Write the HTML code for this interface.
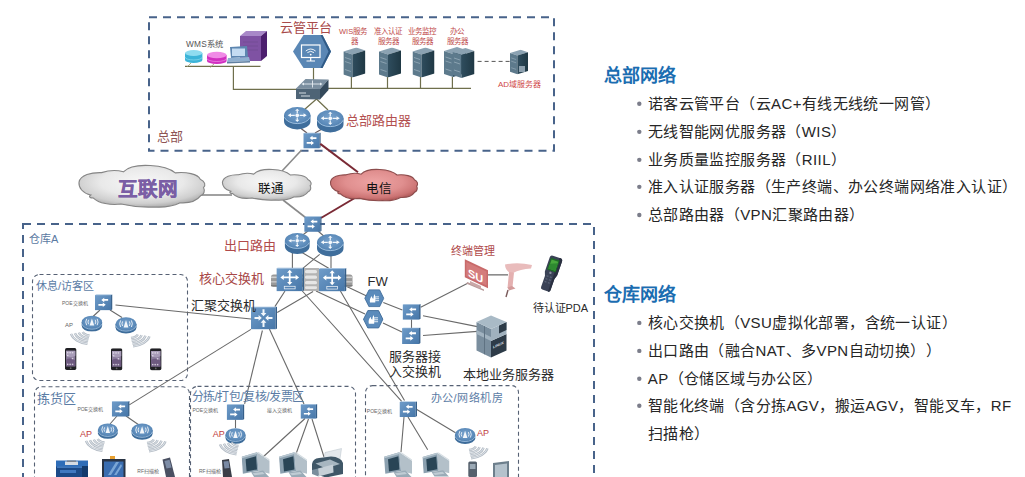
<!DOCTYPE html>
<html lang="zh-CN">
<head>
<meta charset="utf-8">
<style>
html,body{margin:0;padding:0;background:#fff;}
body{width:1025px;height:477px;overflow:hidden;position:relative;font-family:"Liberation Sans",sans-serif;}
svg{position:absolute;left:0;top:0;}
svg text{font-family:"Liberation Sans",sans-serif;text-spacing-trim:space-all;}
</style>
</head>
<body>
<svg width="1025" height="477" viewBox="0 0 1025 477">
<defs>
  <linearGradient id="gCloud" x1="0" y1="0" x2="0" y2="1">
    <stop offset="0" stop-color="#f4f4f4"/><stop offset="0.6" stop-color="#e6e6e6"/><stop offset="1" stop-color="#c9c9c9"/>
  </linearGradient>
  <radialGradient id="gCloudR" cx="0.5" cy="0.4" r="0.6">
    <stop offset="0" stop-color="#f7f7f7"/><stop offset="0.55" stop-color="#e9e9e9"/><stop offset="0.85" stop-color="#cfcfcf"/><stop offset="1" stop-color="#b0b0b0"/>
  </radialGradient>
  <radialGradient id="gCloudRed" cx="0.5" cy="0.4" r="0.6">
    <stop offset="0" stop-color="#eda3a3"/><stop offset="0.55" stop-color="#e08f8f"/><stop offset="0.85" stop-color="#cc7474"/><stop offset="1" stop-color="#b05a5a"/>
  </radialGradient>

  <linearGradient id="gSw" x1="0" y1="0" x2="1" y2="1">
    <stop offset="0" stop-color="#6f9cc9"/><stop offset="1" stop-color="#4676a8"/>
  </linearGradient>
  <radialGradient id="gRtTop" cx="0.5" cy="0.45" r="0.6">
    <stop offset="0" stop-color="#79a3cd"/><stop offset="0.7" stop-color="#5d8cbb"/><stop offset="1" stop-color="#4a79a8"/>
  </radialGradient>
  <linearGradient id="gSrv" x1="0" y1="0" x2="1" y2="0">
    <stop offset="0" stop-color="#2f4d5e"/><stop offset="1" stop-color="#1f3844"/>
  </linearGradient>
  <symbol id="router" viewBox="0 0 28 24">
    <path d="M0.5,9 V15 A13.5,8.5 0 0 0 27.5,15 V9 Z" fill="#3f6e9c"/>
    <ellipse cx="14" cy="9" rx="13.5" ry="8.5" fill="url(#gRtTop)"/>
    <path d="M0.9,11 A13.5,8.5 0 0 0 27.1,11" fill="none" stroke="#a7c7e6" stroke-width="0.9"/>
    <g stroke="#f4f8fc" stroke-width="1.25" fill="none">
      <path d="M6.5,9 H11.5 M16.5,9 H21.5 M14,3.8 V6.8 M14,11.2 V14.2"/>
    </g>
    <g fill="#f4f8fc">
      <path d="M4.3,9 L7.6,7 L7.6,11 Z M23.7,9 L20.4,7 L20.4,11 Z M14,2.2 L11.8,4.4 L16.2,4.4 Z M14,15.8 L11.8,13.6 L16.2,13.6 Z"/>
      <circle cx="14" cy="9" r="1.9"/>
    </g>
  </symbol>
  <symbol id="sw" viewBox="0 0 18 16">
    <rect x="0" y="0.5" width="16.5" height="15.5" fill="url(#gSw)"/>
    <path d="M16.5,0.5 L18,0 L18,15 L16.5,16 Z" fill="#355f8a"/>
    <path d="M0,0.5 L1.5,0 L18,0 L16.5,0.5 Z" fill="#8fb3d6"/>
    <g fill="#fff">
      <path d="M6.5,5.5 L9.5,3.2 L9.5,4.6 L13.5,4.6 L13.5,6.4 L9.5,6.4 L9.5,7.8 Z"/>
      <path d="M11,10.5 L8,8.2 L8,9.6 L3.5,9.6 L3.5,11.4 L8,11.4 L8,12.8 Z"/>
    </g>
  </symbol>
  <symbol id="core" viewBox="0 0 28 24">
    <rect x="0" y="0.8" width="26.5" height="23.2" fill="url(#gSw)"/>
    <path d="M26.5,0.8 L28,0 L28,23 L26.5,24 Z" fill="#355f8a"/>
    <path d="M0,0.8 L1.5,0 L28,0 L26.5,0.8 Z" fill="#90b4d8"/>
    <g stroke="#fff" stroke-width="1.8" fill="none"><path d="M6,10 H21 M13.5,4 V16"/></g>
    <g fill="#fff">
      <path d="M4,10 L7.5,7.3 L7.5,12.7 Z M23,10 L19.5,7.3 L19.5,12.7 Z M13.5,2.3 L10.8,5.3 L16.2,5.3 Z M13.5,17.7 L10.8,14.7 L16.2,14.7 Z"/>
    </g>
    <rect x="8" y="19" width="11" height="2.6" fill="none" stroke="#e6eef6" stroke-width="0.8"/>
  </symbol>
  <symbol id="agg" viewBox="0 0 26 23">
    <rect x="0" y="0.8" width="24.5" height="22.2" fill="url(#gSw)"/>
    <path d="M24.5,0.8 L26,0 L26,22 L24.5,23 Z" fill="#355f8a"/>
    <path d="M0,0.8 L1.5,0 L26,0 L24.5,0.8 Z" fill="#90b4d8"/>
    <g fill="#f4f8fc">
      <path d="M10.8,11.5 L7.6,8.6 L7.6,10.5 L3.5,10.5 L3.5,12.5 L7.6,12.5 L7.6,14.4 Z"/>
      <path d="M14.2,11.5 L17.4,8.6 L17.4,10.5 L21.5,10.5 L21.5,12.5 L17.4,12.5 L17.4,14.4 Z"/>
      <path d="M12.5,9.8 L9.6,6.6 L11.5,6.6 L11.5,2.8 L13.5,2.8 L13.5,6.6 L15.4,6.6 Z"/>
      <path d="M12.5,13.2 L9.6,16.4 L11.5,16.4 L11.5,20.5 L13.5,20.5 L13.5,16.4 L15.4,16.4 Z"/>
    </g>
  </symbol>
  <symbol id="ap" viewBox="0 0 22 17">
    <path d="M0.5,7.2 V10.8 A10.5,6 0 0 0 21.5,10.8 V7.2 Z" fill="#3d6c9a"/>
    <ellipse cx="11" cy="7.2" rx="10.5" ry="6.8" fill="url(#gRtTop)"/>
    <path d="M0.7,9 A10.5,6.6 0 0 0 21.3,9" fill="none" stroke="#a9c8e6" stroke-width="0.8"/>
    <g fill="none" stroke="#f2f6fa" stroke-width="0.9">
      <path d="M7.6,4.6 Q6.3,7 7.6,9.2 M14.4,4.6 Q15.7,7 14.4,9.2 M5.6,3.6 Q3.7,7 5.6,10.2 M16.4,3.6 Q18.3,7 16.4,10.2"/>
    </g>
    <path d="M11,3.2 L8.6,10.6 L13.4,10.6 Z" fill="#f2f6fa"/>
  </symbol>
  <symbol id="wifiL" viewBox="0 0 24 16" overflow="visible">
    <path d="M14.22,2.53 A8.50,4.60 0 0 0 21.02,6.03 M10.32,3.16 A12.50,7.40 0 0 0 20.33,8.79 M6.42,3.79 A16.50,10.20 0 0 0 19.63,11.55 M2.53,4.42 A20.50,13.00 0 0 0 18.94,14.30" fill="none" stroke="#b2bac3" stroke-width="2.4"/>
    <path d="M14.22,2.53 A8.50,4.60 0 0 0 21.02,6.03 M10.32,3.16 A12.50,7.40 0 0 0 20.33,8.79 M6.42,3.79 A16.50,10.20 0 0 0 19.63,11.55 M2.53,4.42 A20.50,13.00 0 0 0 18.94,14.30" fill="none" stroke="#e8edf2" stroke-width="0.8"/>
  </symbol>
  <symbol id="wifiR" viewBox="0 0 24 16" overflow="visible">
    <path d="M9.78,2.53 A8.50,4.60 0 0 1 2.98,6.03 M13.68,3.16 A12.50,7.40 0 0 1 3.67,8.79 M17.58,3.79 A16.50,10.20 0 0 1 4.37,11.55 M21.47,4.42 A20.50,13.00 0 0 1 5.06,14.30" fill="none" stroke="#b2bac3" stroke-width="2.4"/>
    <path d="M9.78,2.53 A8.50,4.60 0 0 1 2.98,6.03 M13.68,3.16 A12.50,7.40 0 0 1 3.67,8.79 M17.58,3.79 A16.50,10.20 0 0 1 4.37,11.55 M21.47,4.42 A20.50,13.00 0 0 1 5.06,14.30" fill="none" stroke="#e8edf2" stroke-width="0.8"/>
  </symbol>
  <symbol id="srv" viewBox="0 0 22 30">
    <path d="M0,4 L13,0 L22,3 L9,7 Z" fill="#8ba2b2"/>
    <path d="M0,4 L9,7 L9,30 L0,27 Z" fill="#5d7a8c"/>
    <path d="M9,7 L22,3 L22,26 L9,30 Z" fill="url(#gSrv)"/>
    <g stroke="#a9bcc8" stroke-width="0.6"><path d="M1.5,10 L7.5,12 M1.5,14 L7.5,16 M1.5,22 L7.5,24"/></g>
  </symbol>
  <symbol id="fw" viewBox="0 0 21 19">
    <path d="M5,0.5 L16,0.5 L20.5,9.5 L16,18.5 L5,18.5 L0.5,9.5 Z" fill="#5b8bbb" stroke="#3c6996" stroke-width="0.9"/>
    <path d="M6,14 Q5,10 8,7 Q8,9.5 9.5,10 Q9.5,7 11,5 Q12.5,9 11.5,14 Z" fill="#fff"/>
    <g stroke="#fff" stroke-width="0.9"><path d="M11.5,8 H15.5 M11.5,10 H15.5 M11.5,12 H15.5"/></g>
  </symbol>

  <symbol id="phone" viewBox="0 0 12 23">
    <rect x="0" y="0" width="11.7" height="22.5" rx="1.8" fill="#202024"/>
    <rect x="1.1" y="2.8" width="9.5" height="16" fill="#8a7c9c"/>
    <path d="M1.1,2.8 H10.6 V8 Q6,11 1.1,7.5 Z" fill="#a89cb8"/>
    <path d="M1.1,12 Q5,9 10.6,12.5 V18.8 H1.1 Z" fill="#6e5a80"/>
    <g fill="#e8e4ee" opacity="0.8"><rect x="2" y="4" width="1.5" height="1.5"/><rect x="4.5" y="4" width="1.5" height="1.5"/><rect x="7" y="4" width="1.5" height="1.5"/><rect x="2" y="7" width="1.5" height="1.5"/><rect x="7" y="10" width="1.5" height="1.5"/><rect x="2" y="16" width="1.5" height="1.5"/><rect x="4.5" y="16" width="1.5" height="1.5"/><rect x="7" y="16" width="1.5" height="1.5"/></g>
    <circle cx="5.85" cy="20.7" r="0.9" fill="#666"/>
  </symbol>
  <symbol id="pc" viewBox="0 0 28 26">
    <path d="M15.3,1.3 L28.2,10 L28.2,22.7 L17,19.9 Z" fill="#b3c0c9"/>
    <path d="M15.3,1.3 L17,1 L28.2,8.6 L28.2,10 Z" fill="#d5dde2"/>
    <path d="M0.1,5.8 L15.3,1.3 L17,19.9 L1.3,22.7 Z" fill="#8ba0af"/>
    <path d="M0.1,5.8 L15.3,1.3 L15.6,3 L0.3,7.3 Z" fill="#b8c7d1"/>
    <path d="M4,8.2 L14.4,5.2 L15.4,18.4 L5,20.4 Z" fill="#294556"/>
    <path d="M9.5,21.3 L21.5,19.6 L27.5,26 L12.5,26 Z" fill="#9aabb7"/>
    <path d="M11,22.3 L21,21 L23,23 L13,24.3 Z" fill="#c0ccd4"/>
  </symbol>
</defs>

<!-- dashed region boxes -->
<rect x="149" y="17.2" width="405" height="133.5" fill="none" stroke="#48638a" stroke-width="2" stroke-dasharray="8 6"/>
<path d="M23,224 H594 V490" fill="none" stroke="#48638a" stroke-width="2" stroke-dasharray="8 6"/>
<path d="M23,223 V490" fill="none" stroke="#48638a" stroke-width="2" stroke-dasharray="8 6" stroke-dashoffset="2"/>

<!-- sub-zone boxes -->
<rect x="32.5" y="274.5" width="155" height="106" rx="7" fill="none" stroke="#566174" stroke-width="1.1" stroke-dasharray="4 3"/>
<rect x="34.5" y="386.8" width="155" height="110" rx="7" fill="none" stroke="#566174" stroke-width="1.1" stroke-dasharray="4 3"/>
<rect x="190.5" y="386.4" width="165" height="110" rx="7" fill="none" stroke="#566174" stroke-width="1.1" stroke-dasharray="4 3"/>
<rect x="365.5" y="385.6" width="153" height="110" rx="7" fill="none" stroke="#566174" stroke-width="1.1" stroke-dasharray="4 3"/>

<!-- labels -->
<text x="157" y="141" font-size="13" fill="#8e5454">总部</text>
<text x="29" y="243" font-size="11" fill="#5b7aa2">仓库A</text>


<!-- ===== HQ content ===== -->
<g stroke="#6f6f4c" stroke-width="1.2" fill="none">
  <path d="M185,66.3 H260.5"/>
  <path d="M233.4,66.3 V89.3 H297"/>
  <path d="M327,88.3 H471"/>
  <path d="M351.4,76 V88.3 M387.5,76 V88.3 M420.5,76 V88.3 M452.4,77 V88.3"/>
  <path d="M313.5,67 V80"/>
  <path d="M316.5,99 L304.5,109.5 M316.5,99 L328,110"/>
  <path d="M191,63 L187,67 M214,64 L210,67.5" stroke="#9a9a70" stroke-width="0.8"/>
</g>
<path d="M477.6,61.4 H510" stroke="#555" stroke-width="1" stroke-dasharray="4 3"/>
<!-- router to switch -->
<g stroke="#6a5a5a" stroke-width="1.2"><path d="M299,127 L307,133 M322,129 L315,133"/></g>

<!-- WMS system -->
<text x="186" y="47.2" font-size="8.3" fill="#555" letter-spacing="0.2">WMS系统</text>
<g>
  <path d="M185,53 V60 A8.7,3 0 0 0 202.4,60 V53 Z" fill="#3cb4d8"/>
  <ellipse cx="193.7" cy="53" rx="8.7" ry="3" fill="#8fdcf0"/>
  <path d="M185,57 A8.7,3 0 0 0 202.4,57" fill="none" stroke="#9be0f2" stroke-width="0.6"/>
  <path d="M207,55 V61 A9.8,3 0 0 0 226.6,61 V55 Z" fill="#d12fc0"/>
  <ellipse cx="216.8" cy="55" rx="9.8" ry="3.2" fill="#f08ae6"/>
  <path d="M207,58.5 A9.8,3 0 0 0 226.6,58.5" fill="none" stroke="#f4a0ec" stroke-width="0.6"/>
</g>
<!-- purple server -->
<g>
  <path d="M240,36 L246,31 L267,31 L261,36 Z" fill="#a888c8"/>
  <rect x="240" y="36" width="21" height="25" fill="#7f52a3"/>
  <path d="M261,36 L267,31 L267,56 L261,61 Z" fill="#4c1f6e"/>
  <g stroke="#6d4a8e" stroke-width="0.6"><path d="M243,42 H258 M243,46 H258 M243,50 H258"/></g>
</g>
<!-- terminal -->
<g>
  <path d="M230,47 L247,46 L248,57 L231,58 Z" fill="#5d86b0"/>
  <rect x="232" y="48.5" width="13" height="7.5" fill="#c4dcf2"/>
  <path d="M228,58 L249,57 L250,61 L227,62 Z" fill="#8fb0d0"/>
  <path d="M227,62 L250,61 L250,62.5 L227,63.5 Z" fill="#5f7fa0"/>
</g>

<!-- cloud platform hexagon -->
<path d="M303.5,35 L322.5,35 L331,51.5 L322.5,68 L303.5,68 L293,51.5 Z" fill="#5a87b5"/>
<path d="M322.5,35 L331,51.5 L322.5,68 L320.5,68 L328.5,51.5 L320.5,35 Z" fill="#2f5a86"/>
<g fill="none" stroke="#fff" stroke-width="1.2">
  <rect x="301.5" y="45" width="18.5" height="12.5"/>
  <path d="M310.7,57.5 V60.5 M306.5,61 H315"/>
</g>
<g fill="none" stroke="#fff" stroke-width="0.9">
  <path d="M305.8,51 Q310.7,47 315.6,51 M307.4,52.6 Q310.7,50 314,52.6"/>
</g>
<circle cx="310.7" cy="54.6" r="0.9" fill="#fff"/>

<!-- hub switch -->
<path d="M296,88.5 L305.5,79 L328.5,79.5 L320,89 Z" fill="#7a8e9f"/>
<path d="M296,88.5 L320,89 L320,99.5 L296,99 Z" fill="#4e6476"/>
<path d="M320,89 L328.5,79.5 L328.5,90 L320,99.5 Z" fill="#34495b"/>
<g stroke="#e4ebf1" stroke-width="0.9" fill="none"><path d="M303,84 H321 M312.5,80.5 V87.5"/><path d="M299,93 L306,93 M301,96 L310,96"/></g>
<g fill="#e4ebf1"><path d="M301.5,84 L304,82.5 L304,85.5 Z M322.5,84 L320,82.5 L320,85.5 Z"/></g>
<!-- HQ servers -->
<use href="#srv" x="343.4" y="47.5" width="22" height="30"/>
<use href="#srv" x="379" y="47.5" width="22" height="30"/>
<use href="#srv" x="412.5" y="47.5" width="22" height="30"/>
<use href="#srv" x="444" y="47" width="22" height="30"/>
<use href="#srv" x="452.5" y="48" width="22" height="30"/>
<!-- AD server -->
<use href="#srv" x="510" y="49.5" width="18" height="25"/>
<rect x="519" y="66" width="6" height="6" fill="#8da0ae"/>

<!-- HQ routers and switch -->
<use href="#router" x="283.5" y="106.5" width="27.5" height="23.5"/>
<use href="#router" x="316.5" y="109" width="27.5" height="24.5"/>
<use href="#sw" x="303.3" y="132" width="17.5" height="17"/>

<!-- HQ labels -->
<text x="280" y="31.5" font-size="13" fill="#a84a4a">云管平台</text>
<text x="346" y="124.5" font-size="13" fill="#b35050">总部路由器</text>
<g font-size="7.5" fill="#c04a4a">
  <text x="339" y="34.3">WIS服务</text><text x="350.5" y="44.3">器</text>
  <text x="374" y="34.3">准入认证</text><text x="377.8" y="44.3">服务器</text>
  <text x="408.4" y="34.3">业务监控</text><text x="412" y="44.3">服务器</text>
  <text x="450.4" y="34.3">办公</text><text x="447" y="44.3">服务器</text>
</g>
<text x="498" y="86.5" font-size="8" fill="#d04848">AD域服务器</text>


<!-- ===== clouds & WAN ===== -->
<g stroke="#8a8a8a" stroke-width="1.6" fill="none">
  <path d="M301.4,150.2 L282,171"/>
  <path d="M283,200 L305.5,217.5"/>
  <path d="M200,195 H232"/>
</g>
<g stroke="#7a2a35" stroke-width="2" fill="none">
  <path d="M320.3,143.9 L358,172.2"/>
  <path d="M354.8,198 L321,218"/>
</g>
<g stroke="#858585" stroke-width="1.1" fill="url(#gCloudR)">
  <svg x="79" y="165.5" width="125" height="42" viewBox="0 0 100 40" preserveAspectRatio="none" overflow="visible">
    <path d="M0,16 C1,9 10,6.5 18,6.8 C24,4.5 31,4.5 35.5,6 C40,0.5 50,-0.5 57,0 C66,0.5 73,3 77,7 C86,6 95,8 97,13 C101,15 101.5,19 99.6,21 C101,24 100,28 97.4,28.7 C94,34 88,36 81,35.5 C74,39.5 66,40 60,39.5 C50,40 40,38.5 33.6,36.7 C25,38 16,36 11.5,31 C8.5,31 7.5,29.5 9.4,28.1 C3,26.5 -0.5,21 0,16 Z" vector-effect="non-scaling-stroke"/>
  </svg>
  <svg x="222.5" y="169.5" width="88" height="31" viewBox="0 0 100 40" preserveAspectRatio="none" overflow="visible">
    <path d="M0,16 C1,9 10,6.5 18,6.8 C24,4.5 31,4.5 35.5,6 C40,0.5 50,-0.5 57,0 C66,0.5 73,3 77,7 C86,6 95,8 97,13 C101,15 101.5,19 99.6,21 C101,24 100,28 97.4,28.7 C94,34 88,36 81,35.5 C74,39.5 66,40 60,39.5 C50,40 40,38.5 33.6,36.7 C25,38 16,36 11.5,31 C8.5,31 7.5,29.5 9.4,28.1 C3,26.5 -0.5,21 0,16 Z" vector-effect="non-scaling-stroke"/>
  </svg>
</g>
<g stroke="#8c4c4c" stroke-width="1.1" fill="url(#gCloudRed)">
  <svg x="330.5" y="169.5" width="86.5" height="31.5" viewBox="0 0 100 40" preserveAspectRatio="none" overflow="visible">
    <path d="M0,16 C1,9 10,6.5 18,6.8 C24,4.5 31,4.5 35.5,6 C40,0.5 50,-0.5 57,0 C66,0.5 73,3 77,7 C86,6 95,8 97,13 C101,15 101.5,19 99.6,21 C101,24 100,28 97.4,28.7 C94,34 88,36 81,35.5 C74,39.5 66,40 60,39.5 C50,40 40,38.5 33.6,36.7 C25,38 16,36 11.5,31 C8.5,31 7.5,29.5 9.4,28.1 C3,26.5 -0.5,21 0,16 Z" vector-effect="non-scaling-stroke"/>
  </svg>
</g>
<text x="117.5" y="196" font-size="19.5" font-weight="bold" fill="#7a5ea5" stroke="#7a5ea5" stroke-width="0.5">互联网</text>
<text x="258.3" y="192.6" font-size="12.5" fill="#111">联通</text>
<text x="366.3" y="193.4" font-size="12.5" fill="#111">电信</text>


<!-- ===== Warehouse content ===== -->
<g stroke="#6a6a6a" stroke-width="1.1" fill="none">
  <!-- wan switch to routers -->
  <path d="M308,231 L300,237 M318,231 L326,238"/>
  <!-- routers to core -->
  <path d="M292.4,252 V268 M331,256 V268 M300.8,251.8 L328.7,268.3 M319.7,254.4 L302.8,268.3"/>
  <!-- core to agg -->
  <path d="M285,291 L274.9,306.6 M313.1,291.5 L277.2,312.5"/>
  <!-- core to office POE -->
  <path d="M302.3,291 L401.7,401.3 M340.4,291 L404.5,400.5"/>
  <!-- core to FW -->
  <path d="M316,291 L365,314 M347.2,286.8 L367.7,296.4"/>
  <!-- FW to SW -->
  <path d="M383.3,302.6 L402.4,310 M383,323 L402,332"/>
  <path d="M411.5,319.5 V328"/>
  <!-- SW to SU / server -->
  <path d="M420.7,307.3 L467.7,283.3 M423,315.8 L477.3,326.6 M423,335.5 L477.3,331.4"/>
  <!-- agg to zones -->
  <path d="M251,319 L115.5,305"/>
  <path d="M250.9,329.4 L129.3,404.9"/>
  <path d="M262.4,330.5 L244.6,403.8"/>
  <path d="M269.4,329 L304,404"/>
  <!-- zone internal -->
  <path d="M100,310 L93,316.5 M110,310 L122,317.5"/>
  <path d="M117,416 L110,424 M126,416 L139,425"/>
  <path d="M235.5,419.5 V428"/>
  <path d="M305,418.5 L263,457 M308.5,419 L296,454 M312,419 L324,457"/>
  <path d="M404,417 L401,452 M408,417 L427.7,449.8 M416,409 L455.5,432.7"/>
</g>
<path d="M488,274.9 H508" stroke="#444" stroke-width="1"/>

<!-- WAN switch -->
<use href="#sw" x="304.2" y="216" width="17.5" height="16"/>
<!-- exit routers -->
<use href="#router" x="283.5" y="232.5" width="27.5" height="22"/>
<use href="#router" x="316.5" y="233" width="27.5" height="24.5"/>
<!-- core chassis -->
<rect x="271" y="274.5" width="81.5" height="12.5" rx="2.5" fill="#9a9a9a"/>
<rect x="271" y="276.5" width="81.5" height="1.6" fill="#cfcfcf"/>
<rect x="271" y="281" width="81.5" height="1.6" fill="#c4c4c4"/>
<rect x="271" y="285" width="81.5" height="1.2" fill="#7e7e7e"/>
<rect x="303" y="268" width="16" height="23" fill="#b4b4b4"/>
<g fill="#e6e6e6"><rect x="305" y="270" width="12" height="3.2" rx="1.5"/><rect x="305" y="275.5" width="12" height="3.2" rx="1.5"/><rect x="305" y="281" width="12" height="3.2" rx="1.5"/><rect x="305" y="286.3" width="12" height="2.6" rx="1.2"/></g>
<use href="#core" x="276.4" y="267.4" width="27.6" height="24"/>
<use href="#core" x="318.5" y="268" width="28.3" height="23.4"/>
<!-- agg -->
<use href="#agg" x="251" y="306.4" width="26" height="23"/>
<!-- FW -->
<use href="#fw" x="364" y="289.3" width="20.6" height="18"/>
<use href="#fw" x="363" y="309.8" width="20.4" height="19"/>
<!-- server access switches -->
<use href="#sw" x="402.3" y="304" width="18.7" height="15.8"/>
<use href="#sw" x="402" y="327.6" width="18.7" height="16.4"/>

<!-- SU terminal management -->
<g>
  <path d="M467.5,282 L484,289.5 L484,291 L466,283.5 Z" fill="#b89a9a"/>
  <path d="M470,281 L481,286 L481,289 L470,284 Z" fill="#caa8a8"/>
  <path d="M464.8,259.3 L488,270.3 L488,288.2 L464.8,277.2 Z" fill="#c86a6a"/>
  <path d="M466.3,262 L486.5,271.6 L486.5,285.5 L466.3,275.9 Z" fill="#d47c7c"/>
  <text x="468" y="276.5" font-size="11" font-weight="bold" fill="#fff" transform="skewY(25) translate(0,-218.5)">SU</text>
</g>
<!-- scanner gun -->
<g>
  <path d="M505,264.5 Q518,262 532,265 L531,268.5 Q520,269 513,273 L510,273 Q505,270 505,264.5 Z" fill="#e9bcbc"/>
  <path d="M509,272 L514,272.5 L512.5,287 L507.5,288 Z" fill="#e4b0b0"/>
  <path d="M507.5,287.5 L512,286 L515.5,288.5 L509,290.5 Z" fill="#d29a9a"/>
  <path d="M508,290 L506,297" stroke="#7a5a5a" stroke-width="1.4"/>
</g>
<!-- PDA -->
<g transform="translate(551,273.5) rotate(19)">
  <path d="M-6.5,-15 Q-6.5,-17.5 -4,-17.5 L4,-17.5 Q6.5,-17.5 6.5,-15 L6.5,0 L5,4 L5,16 Q5,18 3,18 L-3,18 Q-5,18 -5,16 L-5,4 L-6.5,0 Z" fill="#3a4256"/>
  <path d="M3.5,-17.5 Q6.5,-17.5 6.5,-15 L6.5,0 L5,4 L5,16 Q5,18 3,18 L3,-17.5 Z" fill="#2a3040"/>
  <rect x="-5" y="-15" width="9" height="12.5" fill="#1f6a28"/>
  <rect x="-4" y="-13.5" width="7" height="9.5" fill="#48a83c"/>
  <path d="M-4,-9 L3,-12 L3,-4 L-4,-4 Z" fill="#2e8a30"/>
  <g fill="#5c6478"><rect x="-3.5" y="3" width="2" height="1.2"/><rect x="0" y="3" width="2" height="1.2"/><rect x="-3.5" y="6" width="2" height="1.2"/><rect x="0" y="6" width="2" height="1.2"/><rect x="-3.5" y="9" width="2" height="1.2"/><rect x="0" y="9" width="2" height="1.2"/></g>
  <circle cx="-0.8" cy="-0.5" r="1.2" fill="#8a90a0"/>
</g>
<!-- local server (linux) -->
<g>
  <path d="M476.5,322 L491,329 L491,357.5 L476.5,350.5 Z" fill="#7a8e9e"/>
  <path d="M476.5,330 L491,337 L491,341 L476.5,334 Z" fill="#a2b3c0"/>
  <path d="M484,326 L484,354 L485,354.5 L485,326.5 Z" fill="#5f7282"/>
  <path d="M491,341 L506.5,334 L506.5,350.5 L491,357.5 Z" fill="#2d3b48"/>
  <path d="M491,329 L506.5,322 L506.5,334 L491,341 Z" fill="#a0b1be"/>
  <path d="M499,325.5 L506.5,322 L506.5,330 L499,333.5 Z" fill="#2d3b48"/>
  <path d="M476.5,322 L491,315.5 L506.5,322 L491,329 Z" fill="#a9bac6"/>
  <text x="493" y="348" font-size="3.6" font-weight="bold" fill="#e0e6ec" transform="skewY(-24) translate(0,220)">LINUX</text>
</g>
<!-- warehouse labels -->
<text x="223.8" y="250.3" font-size="13" fill="#b04a4a">出口路由</text>
<text x="199" y="282.5" font-size="13" fill="#a84848">核心交换机</text>
<text x="191.3" y="309.5" font-size="13" fill="#2a2a2a">汇聚交换机</text>
<text x="367.5" y="285.8" font-size="13" fill="#2a2a2a">FW</text>
<text x="451" y="255" font-size="11" fill="#b04a4a">终端管理</text>
<text x="532.5" y="311.5" font-size="11" fill="#2a2a2a">待认证PDA</text>
<text x="388.6" y="360.5" font-size="13" fill="#2a2a2a">服务器接</text>
<text x="388.6" y="376.3" font-size="13" fill="#2a2a2a">入交换机</text>
<text x="462.5" y="378.5" font-size="13" fill="#2a2a2a">本地业务服务器</text>


<!-- ===== zones ===== -->
<g fill="#5b7ca5">
  <text x="36" y="289.5" font-size="11">休息/访客区</text>
  <text x="36.8" y="403.3" font-size="13">拣货区</text>
  <text x="191.6" y="401.3" font-size="12" letter-spacing="-0.5">分拣/打包/复核/发票区</text>
  <text x="430.5" y="401.5" font-size="11" letter-spacing="0.5">办公/网络机房</text>
</g>
<g font-size="5" fill="#666">
  <text x="62" y="305">POE交换机</text>
  <text x="77.4" y="411">POE交换机</text>
  <text x="192.5" y="412">POE交换机</text>
  <text x="267.3" y="412">接入交换机</text>
  <text x="366.8" y="412.5">POE交换机</text>
  <text x="137.3" y="472.5">RF扫描枪</text>
  <text x="199" y="473">RF扫描枪</text>
</g>
<g font-size="6" fill="#666"><text x="65" y="327">AP</text></g>
<g font-size="9" fill="#c04040">
  <text x="80" y="436.5">AP</text>
  <text x="212.8" y="436.5">AP</text>
  <text x="477" y="435.5">AP</text>
</g>

<!-- rest area -->
<use href="#sw" x="95" y="294" width="17.5" height="16.8"/>
<use href="#ap" x="80.8" y="315.3" width="22.2" height="16.5"/>
<use href="#ap" x="115" y="316.6" width="22" height="17.4"/>
<use href="#wifiL" x="68.5" y="329.5" width="24" height="16"/>
<use href="#wifiR" x="128" y="332" width="24" height="16"/>
<use href="#phone" x="65" y="348" width="11.7" height="22.5"/>
<use href="#phone" x="110.9" y="348.3" width="11.7" height="22.4"/>
<use href="#phone" x="150" y="348.3" width="11.8" height="22.4"/>

<!-- picking area -->
<use href="#sw" x="111.6" y="401" width="18.2" height="15.7"/>
<use href="#ap" x="96.6" y="423" width="22.4" height="16"/>
<use href="#ap" x="130.9" y="423" width="22.4" height="17"/>
<use href="#wifiL" x="83.5" y="436.5" width="24" height="16"/>
<use href="#wifiR" x="144" y="437" width="24" height="16"/>
<!-- AGV -->
<g>
  <rect x="56" y="461" width="32" height="16" fill="#1b4a88"/>
  <rect x="56" y="460.5" width="32" height="6" fill="#2e6db8"/>
  <rect x="57" y="466.5" width="30" height="1.2" fill="#4f8ad0"/>
  <rect x="65" y="461.5" width="13" height="3.5" fill="#d6dce3"/>
  <rect x="67" y="460.5" width="9" height="1.5" fill="#7d8590"/>
  <rect x="60" y="470" width="16" height="3" fill="#3f78c0"/>
  <rect x="82" y="466" width="6" height="11" fill="#123a6c"/>
</g>
<!-- forklift terminal -->
<g>
  <rect x="110" y="456" width="5" height="3.2" fill="#e8a030"/>
  <rect x="102" y="459" width="23.5" height="18" fill="#2a3444"/>
  <rect x="104" y="461.5" width="19.5" height="15.5" fill="#3a6db0"/>
  <path d="M108,475 L116,462 L119,462 L111,475 Z M114,475 L121,464 L122,466 L116.5,475 Z" fill="#7aa6d6"/>
</g>
<!-- RF gun -->
<g>
  <path d="M162.5,459.5 L170,457.5 L175,477 L166,477 Z" fill="#4a5062"/>
  <path d="M164.5,461 L169.5,459.8 L171.5,467.5 L166.5,468.5 Z" fill="#7d8ca6"/>
</g>

<!-- sorting area -->
<use href="#sw" x="226.7" y="404" width="17.7" height="16"/>
<use href="#sw" x="300.4" y="404" width="17.1" height="14.8"/>
<use href="#ap" x="225" y="427.4" width="21" height="17"/>
<use href="#wifiL" x="217.5" y="440" width="24" height="16"/>
<g>
  <path d="M222,460 L229,459 L232,477 L223,477 Z" fill="#3a3e48"/>
  <path d="M223.5,461.5 L228.5,461 L229.5,468 L224.5,468.5 Z" fill="#7a8aa4"/>
</g>
<use href="#pc" x="241.6" y="451" width="28" height="26"/>
<use href="#pc" x="279" y="451" width="28" height="26"/>
<!-- printer -->
<g>
  <path d="M325,452.5 L341.5,448.5 L339.5,462 L323.5,465.5 Z" fill="#e3e8ec" stroke="#b6c0c8" stroke-width="0.5"/>
  <path d="M312,464 Q313,458.5 319,458 L331,456.5 Q341,457 343,463 L343,474 L326,477.5 L312,473 Z" fill="#3f5767"/>
  <path d="M315.5,463.5 L330,459.5 L340,464 L325.5,468.5 Z" fill="#a7b6c0"/>
  <path d="M318,468.5 L333,464.5 L333.5,472.5 L318.5,476.5 Z" fill="#c6d0d7"/>
  <path d="M312,470 L318,468.5 L318.5,476.5 L312,474 Z" fill="#7a8e9c"/>
</g>
<!-- office -->
<use href="#sw" x="399.5" y="400.7" width="17.5" height="17.1"/>
<use href="#ap" x="454.4" y="427.4" width="21.4" height="17"/>
<use href="#wifiR" x="466" y="444" width="24" height="16"/>
<use href="#pc" x="384" y="451" width="28" height="26"/>
<use href="#pc" x="422.4" y="451" width="27" height="26"/>
<g>
  <rect x="468.3" y="461.6" width="8.7" height="15.4" rx="1.5" fill="#55606c"/>
  <rect x="469.8" y="464" width="5.7" height="5" fill="#9aa8b4"/>
</g>
<g>
  <path d="M493,463 L509,461 L509,477 L493,477 Z" fill="#6d7f8c"/>
  <path d="M495,465 L507,463.5 L507,477 L495,477 Z" fill="#b4c2cc"/>
</g>

<!-- right panel -->
<g id="rp">
<text x="604" y="82" font-size="18" font-weight="bold" fill="#1b6db1">总部网络</text>
<g fill="#7b7d8a">
<circle cx="639.3" cy="103.8" r="2.2"/><circle cx="639.3" cy="131.85" r="2.2"/><circle cx="639.3" cy="159.85" r="2.2"/><circle cx="639.3" cy="186.85" r="2.2"/><circle cx="639.3" cy="215.05" r="2.2"/>
</g>
<g font-size="15" fill="#262626" letter-spacing="0.4">
<text x="647.8" y="109">诺客云管平台（云AC+有线无线统一网管）</text>
<text x="647.8" y="137.05">无线智能网优服务器（WIS）</text>
<text x="647.8" y="165.05">业务质量监控服务器（RIIL）</text>
<text x="647.8" y="192.05">准入认证服务器（生产终端、办公终端网络准入认证）</text>
<text x="647.8" y="220.25">总部路由器（VPN汇聚路由器）</text>
</g>
<text x="604" y="301" font-size="18" font-weight="bold" fill="#1b6db1">仓库网络</text>
<g fill="#7b7d8a">
<circle cx="639.3" cy="322.9" r="2.2"/><circle cx="639.3" cy="350.9" r="2.2"/><circle cx="639.3" cy="378.7" r="2.2"/><circle cx="639.3" cy="405.7" r="2.2"/>
</g>
<g font-size="15" fill="#262626" letter-spacing="0.4">
<text x="647.8" y="328.1">核心交换机（VSU虚拟化部署，含统一认证）</text>
<text x="647.8" y="356.1">出口路由（融合NAT、多VPN自动切换））</text>
<text x="647.8" y="383.9">AP（仓储区域与办公区）</text>
<text x="647.8" y="410.9">智能化终端（含分拣AGV，搬运AGV，智能叉车，RF</text>
<text x="647.8" y="438.8">扫描枪）</text>
</g>
</g>

</svg>
</body>
</html>
